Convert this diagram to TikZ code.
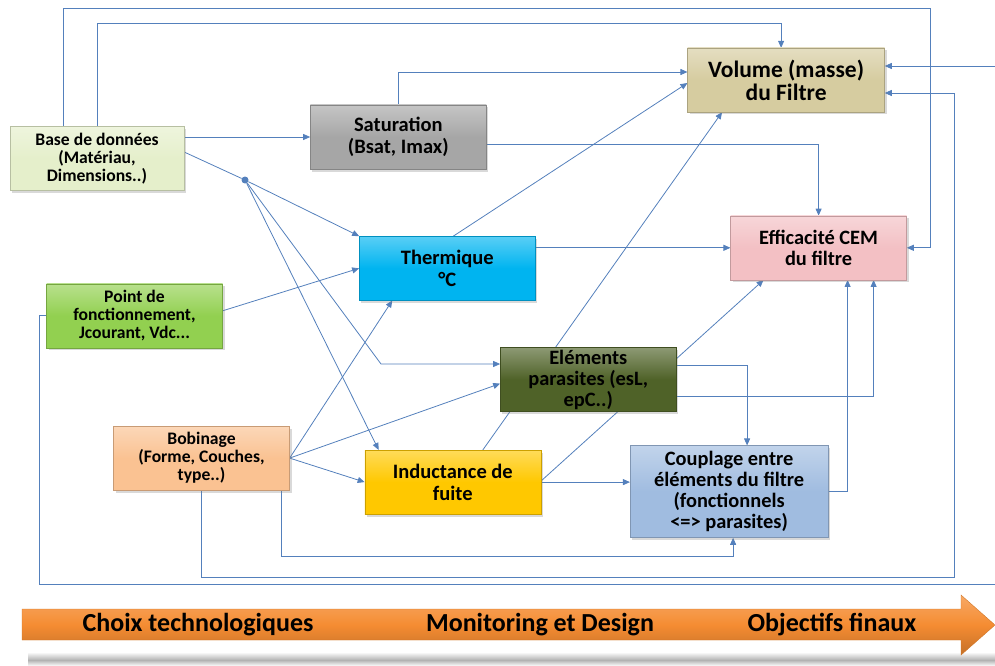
\documentclass[tikz,border=0pt]{standalone}
\usepackage{fontspec}
\setmainfont{Carlito}
\usetikzlibrary{positioning}
\usetikzlibrary{shadows}
\usetikzlibrary{arrows.meta}
\usetikzlibrary{backgrounds}

\definecolor{cLien}{RGB}{84,128,188}
\definecolor{cBase}{RGB}{229,239,203}
\definecolor{cSat}{RGB}{166,166,166}
\definecolor{cVol}{RGB}{214,204,160}
\definecolor{cTherm}{RGB}{0,180,240}
\definecolor{cEff}{RGB}{243,192,196}
\definecolor{cPoint}{RGB}{146,208,80}
\definecolor{cElem}{RGB}{79,98,40}
\definecolor{cBob}{RGB}{250,194,146}
\definecolor{cInd}{RGB}{255,200,0}
\definecolor{cCoup}{RGB}{160,188,224}
\definecolor{cFleche}{RGB}{245,140,50}

\tikzset{
  bloc/.style={draw=#1!80!black, line width=0.3pt,
    top color=#1!65!white, bottom color=#1, middle color=#1,
    minimum width=176pt, minimum height=64pt, inner sep=2pt, align=center,
    drop shadow={shadow xshift=2pt, shadow yshift=-2.5pt, opacity=0.3}},
  petit/.style={font=\bfseries\fontsize{17.6}{18}\selectfont},
  moyen/.style={font=\bfseries\fontsize{20.4}{21}\selectfont},
  grand/.style={font=\bfseries\fontsize{20.5}{22}\selectfont},
  lien/.style={draw=cLien, line width=0.8pt, -{Triangle[length=7pt,width=6pt]}},
  trait/.style={draw=cLien, line width=0.8pt},
  jonction/.style={circle, fill=cLien, minimum size=7pt, inner sep=0pt},
  etape/.style={font=\bfseries\fontsize{26}{28}\selectfont, text=black}
}

\begin{document}
\begin{tikzpicture}[x=1pt,y=1pt]

  \useasboundingbox (0,0) rectangle (995,-666);

  % Nodes

  \node[bloc=cBase, petit, minimum width=174pt] (base) at (97,-158.5) {Base de données\\(Matériau,\\Dimensions..)} ; %
  \node[bloc=cSat, grand, right=126pt of base, yshift=21.5pt] (sat) {Saturation\\(Bsat, Imax)} ; %
  \node[bloc=cTherm, grand, below=67pt of sat, xshift=49pt] (therm) {Thermique\\°C} ; %
  \node[bloc=cVol, grand, font=\bfseries\fontsize{23.5}{23}\selectfont, minimum width=197pt, right=201pt of sat, yshift=57pt] (volume) {Volume (masse)\\du Filtre} ; %
  \node[bloc=cEff, moyen, right=195pt of therm, yshift=20.5pt] (effCEM) {Efficacité CEM\\du filtre} ; %

  \node[bloc=cPoint, petit, below=93pt of base, xshift=37.5pt] (pointF) {Point de\\fonctionnement,\\Jcourant, Vdc...} ; %
  \node[bloc=cElem, moyen, below=47pt of therm, xshift=141pt] (elemPar) {Eléments\\parasites (esL,\\epC..)} ; %
  \node[bloc=cBob, petit, below=78pt of pointF, xshift=67pt] (bobin) {Bobinage\\(Forme, Couches,\\type..)} ; %
  \node[bloc=cInd, grand, right=75pt of bobin, yshift=-24pt] (indFuite) {Inductance de\\fuite} ; %
  \node[bloc=cCoup, moyen, minimum width=198pt, minimum height=92pt, right=89pt of indFuite, yshift=-9.5pt] (coupl) {Couplage entre\\éléments du filtre\\(fonctionnels\\<=> parasites)} ; %

  \node[jonction] (jonc) at (245,-180) {} ; %

  % Routing points

  \coordinate (hautA) at (930,-8) ; %
  \coordinate (hautB) at (0,-23) ; %
  \coordinate (coude) at (381,-364) ; %
  \coordinate (basF) at (0,-556) ; %
  \coordinate (basE) at (954,-577) ; %
  \coordinate (basP) at (39,-584) ; %
  \coordinate (bordP) at (1002,-584) ; %

  % Edges

  \begin{scope}[on background layer]
    \draw[lien] ([xshift=-34pt]base.north) |- (hautA) |- (effCEM.east) ;
    \draw[lien] (base.north) |- ([xshift=-5pt]volume.north |- hautB) -- ([xshift=-5pt]volume.north) ;
    \draw[lien] (sat.west -| base.east) -- (sat.west) ;
    \draw[trait] ([yshift=6.5pt]base.east) -- (jonc) ;

    \draw[lien] (jonc) -- (therm.north west) ;
    \draw[lien] (jonc) -- (coude) -- (coude -| elemPar.west) ;
    \draw[lien] (jonc) -- ([xshift=14pt]indFuite.north west) ;

    \draw[lien] (sat.north) |- ([yshift=8pt]volume.west) ;
    \draw[lien] ([yshift=-7pt]sat.east) -| (effCEM.north) ;

    \draw[lien] ([yshift=5pt]pointF.east) -- (therm.west) ;
    \draw[lien] (pointF.west) -| (basP) -- (bordP) |- ([yshift=14pt]volume.east) ;

    \draw[lien] ([xshift=6pt]therm.north) -- ([yshift=-3pt]volume.west) ;
    \draw[lien] (effCEM.west -| therm.east) -- (effCEM.west) ;

    \draw[lien] ([xshift=30pt]indFuite.north) -- ([xshift=-64pt]volume.south) ;
    \draw[lien] ([yshift=1pt]indFuite.east) -- ([xshift=-55pt]effCEM.south) ;
    \draw[lien] (indFuite.east) -- (indFuite.east -| coupl.west) ;

    \draw[lien] ([yshift=14pt]elemPar.east) -| ([xshift=18pt]coupl.north) ;
    \draw[lien] ([yshift=-17pt]elemPar.east) -| ([xshift=55pt]effCEM.south) ;
    \draw[lien] (coupl.east) -| ([xshift=29pt]effCEM.south) ;

    \draw[lien] (bobin.east) -- ([xshift=-55pt]therm.south) ;
    \draw[lien] (bobin.east) -- ([yshift=-4pt]elemPar.west) ;
    \draw[lien] (bobin.east) -- (indFuite.west) ;
    \draw[lien] (bobin.south) |- (basE) |- ([yshift=-13pt]volume.east) ;
    \draw[lien] ([xshift=-8pt]bobin.south east) |- ([xshift=4pt]coupl.south |- basF) -- ([xshift=4pt]coupl.south) ;
  \end{scope}

  % Bottom arrow

  \shade[top color=white, bottom color=black!30] (28,-652) rectangle (995,-660) ;
  \shade[top color=black!30, bottom color=white] (28,-660) rectangle (995,-666) ;
  \shade[draw=cFleche!85!black, line width=0.4pt, top color=cFleche!75!white, bottom color=cFleche!80!black, middle color=cFleche]
    (22,-609) -- (961,-609) -- (961,-595) -- (995,-625) -- (961,-655) -- (961,-640) -- (22,-640) -- cycle ;

  \node[etape] (choix) at (198,-625) {Choix technologiques} ; %
  \node[etape] (monit) at (540,-625) {Monitoring et Design} ; %
  \node[etape] (objec) at (832,-625) {Objectifs finaux} ; %

\end{tikzpicture}
\end{document}
